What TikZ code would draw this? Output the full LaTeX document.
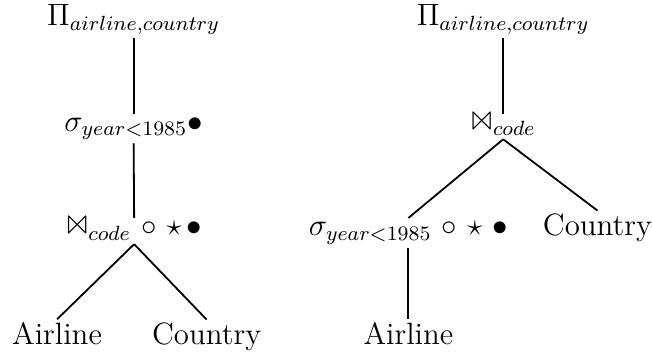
\documentclass[12pt,tikz,border=0pt]{standalone}
\usepackage{latexsym}
\usetikzlibrary{positioning}
\tikzstyle{op} = [inner xsep=0pt, inner ysep=1.2pt, anchor=base]
\tikzstyle{line} = [draw, line width=0.7pt]

\begin{document}
\begin{tikzpicture}[x=1pt, y=1pt]
	\useasboundingbox (0,0) rectangle (253.7,-137.7);
	% left plan
	\node [op] (pi1) at (52.0,-10.1) {$\Pi_{airline,country}$};
	\node [op] (sel1) at (52.0,-51.0) {$\sigma_{year<1985}\bullet$};
	\node [op] (join1) at (52.2,-91.8) {$\Join_{code}$ $\circ$ $\star\,\bullet$};
	\node [op] (air1) at (22.2,-134.2) {Airline};
	\node [op] (cty1) at (80.4,-134.2) {Country};

	\path [line] (pi1.south) -- (sel1.north);
	\path [line] (sel1.south) -- (join1.north);
	\path [line] (join1.south) -- (air1.north);
	\path [line] (join1.south) -- (cty1.north);

	% right plan
	\node [op] (pi2) at (195.8,-10.1) {$\Pi_{airline,country}$};
	\node [op] (join2) at (195.8,-51.0) {$\Join_{code}$};
	\node [op] (sel2) at (158.9,-91.8) {$\sigma_{year<1985}$ $\circ$ $\star$ $\bullet$};
	\node [op] (cty2) at (232.5,-91.8) {Country};
	\node [op] (air2) at (158.9,-134.2) {Airline};

	\path [line] (pi2.south) -- (join2.north);
	\path [line] (join2.south) -- (sel2.north);
	\path [line] (join2.south) -- (cty2.north);
	\path [line] (sel2.south) -- (air2.north);
\end{tikzpicture}
\end{document}
